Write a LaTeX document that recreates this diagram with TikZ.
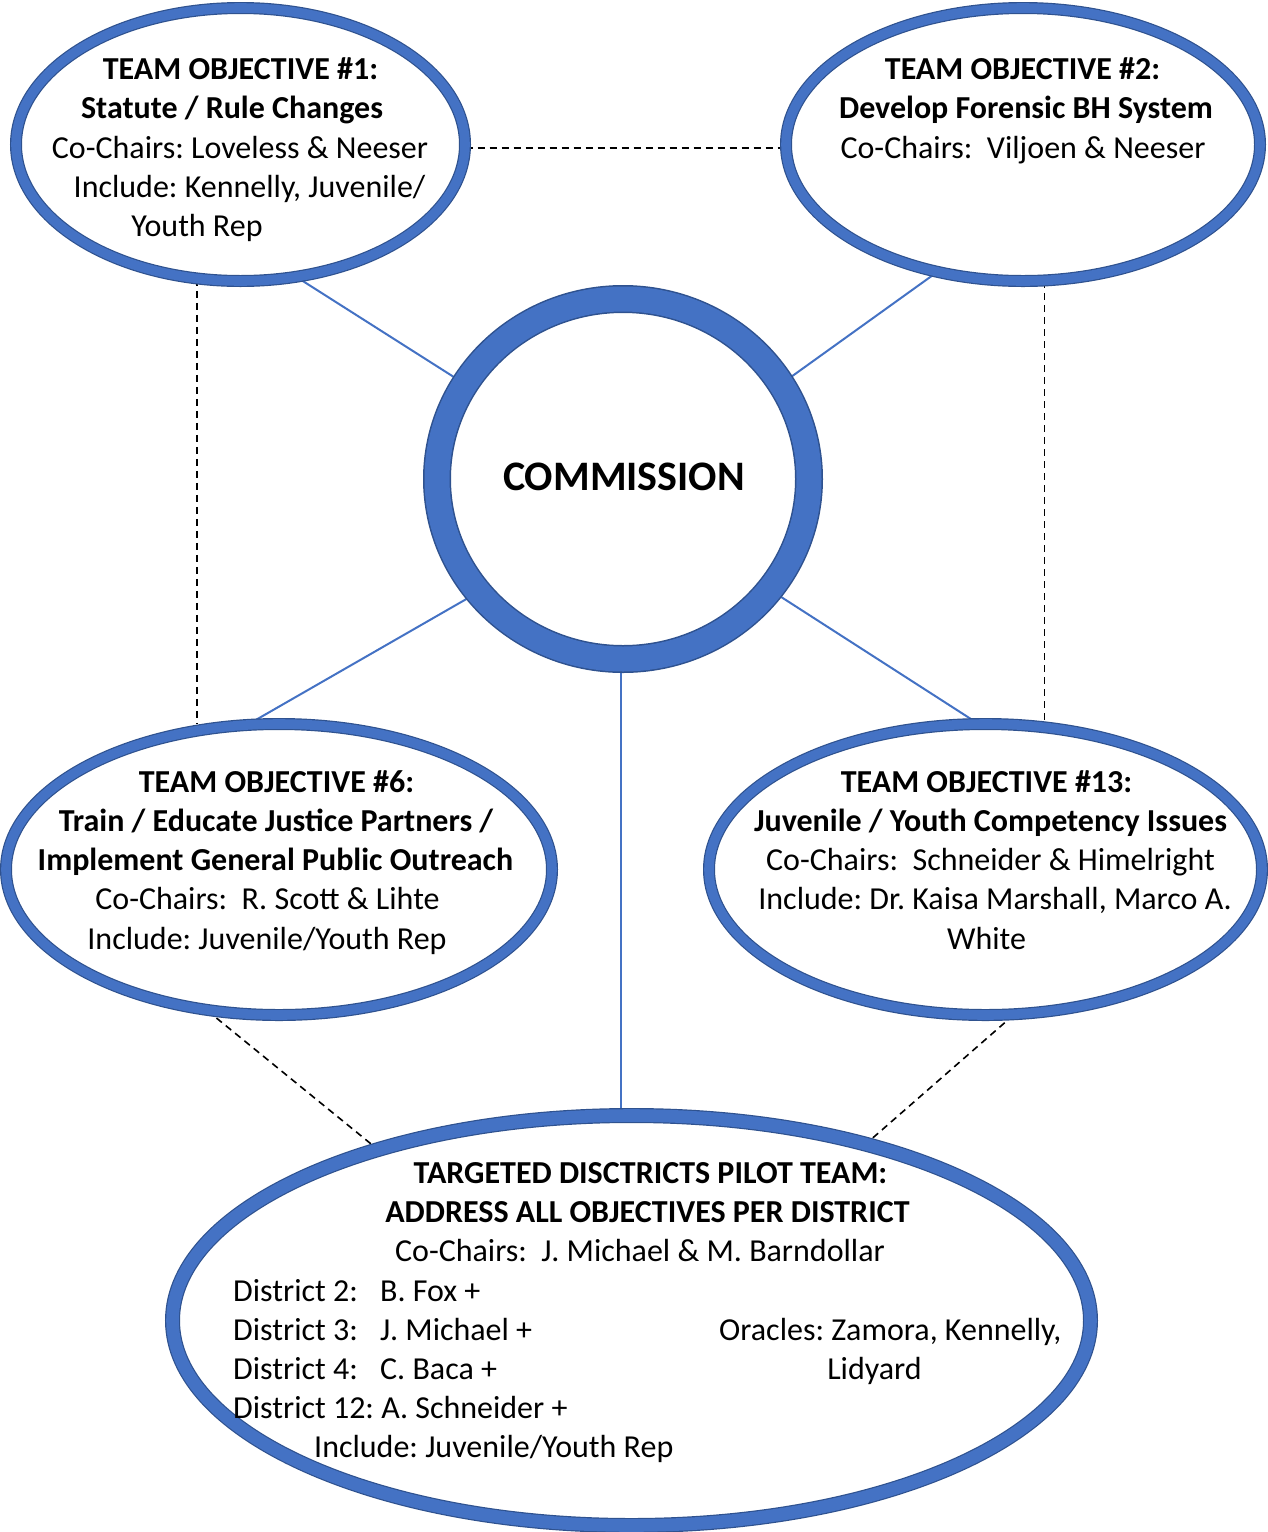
\documentclass[tikz,border=0pt]{standalone}
\usepackage{fontspec}
\setmainfont{Carlito}
\usetikzlibrary{shapes.geometric,backgrounds}
\definecolor{ringblue}{HTML}{4472C4}
\definecolor{ringedge}{HTML}{2F528F}
\frenchspacing
\begin{document}
\begin{tikzpicture}[x=1pt,y=-1pt,
  ring/.style={ellipse, draw=ringedge, line width=1.2pt, double=ringblue, double distance=9.6pt, fill=white, inner sep=0pt},
  txt/.style={inner sep=0pt, anchor=base, font=\fontsize{32}{38}\selectfont},
  btxt/.style={txt, font=\fontsize{32}{38}\bfseries\selectfont},
  ltxt/.style={txt, anchor=base west},
  link/.style={draw=ringblue, line width=2pt},
  dashlink/.style={draw=black, line width=1.6pt, dash pattern=on 7pt off 5pt}]
\useasboundingbox (0,0) rectangle (1268,1532);

% rings
\node[ring, minimum width=449pt, minimum height=273pt] (e1) at (240.5,144.5) {};
\node[ring, minimum width=474pt, minimum height=273pt] (e2) at (1023,144.5) {};
\node[ring, line width=1.5pt, double distance=25pt, minimum width=372pt, minimum height=360pt] (comm) at (623,479) {};
\node[ring, minimum width=546pt, minimum height=291pt] (e6) at (279,869.5) {};
\node[ring, minimum width=553pt, minimum height=291pt] (e13) at (985.5,869.5) {};
\node[ring, double distance=12.6pt, minimum width=918pt, minimum height=410pt] (bot) at (631.5,1320.5) {};

% connectors
\begin{scope}[on background layer]
\draw[link] (e1.-67) -- (comm.149.7);
\draw[link] (e2.236.6) -- (comm.31);
\draw[link] (comm.218.4) -- (e6.102);
\draw[link] (comm.-37.6) -- (e13.93);
\draw[link] ([xshift=-2pt]comm.south) -- ([xshift=-2pt]comm.south |- bot.north);
\draw[dashlink] ([yshift=-3.5pt]e1.east) -- ([yshift=-3.5pt]e1.east -| e2.west);
\draw[dashlink] (e1.-108) -- (e1.-108 |- e6.north);
\draw[dashlink] (e2.-81) -- (e2.-81 |- e13.north);
\draw[dashlink] (e6.-117) -- (bot.146.9);
\draw[dashlink] (e13.-79) -- (bot.37.2);
\end{scope}

% objective 1
\node[btxt] (t1a) at (240.5,79.5) {TEAM OBJECTIVE \#1:};
\node[btxt] (t1b) at (232,118.8) {Statute / Rule Changes};
\node[txt] (t1c) at (240,158) {Co-Chairs: Loveless \& Neeser};
\node[txt] (t1d) at (249.5,197.2) {Include: Kennelly, Juvenile/};
\node[txt] (t1e) at (197,236.4) {Youth Rep};

% objective 2
\node[btxt] (t2a) at (1022.5,79.5) {TEAM OBJECTIVE \#2:};
\node[btxt] (t2b) at (1026,118.8) {Develop Forensic BH System};
\node[txt] (t2c) at (1023,158) {Co-Chairs:\ \ Viljoen \& Neeser};

% commission
\node[txt, font=\fontsize{42}{50}\bfseries\selectfont] (tc) at (624,490.7) {COMMISSION};

% objective 6
\node[btxt] (t6a) at (276.5,792) {TEAM OBJECTIVE \#6:};
\node[btxt] (t6b) at (276,831.3) {Train / Educate Justice Partners /};
\node[btxt] (t6c) at (275.5,870.5) {Implement General Public Outreach};
\node[txt] (t6d) at (267.5,909.8) {Co-Chairs:\ \ R. Scott \& Lihte};
\node[txt] (t6e) at (267,949) {Include: Juvenile/Youth Rep};

% objective 13
\node[btxt] (t13a) at (986.5,792) {TEAM OBJECTIVE \#13:};
\node[btxt] (t13b) at (990.5,831.3) {Juvenile / Youth Competency Issues};
\node[txt] (t13c) at (990.5,870.5) {Co-Chairs:\ \ Schneider \& Himelright};
\node[txt] (t13d) at (995,909.8) {Include: Dr. Kaisa Marshall, Marco A.};
\node[txt] (t13e) at (986.5,949) {White};

% pilot team
\node[btxt] (tba) at (650.5,1183.5) {TARGETED DISCTRICTS PILOT TEAM:};
\node[btxt] (tbb) at (647.5,1222.7) {ADDRESS ALL OBJECTIVES PER DISTRICT};
\node[txt] (tbc) at (640,1261.9) {Co-Chairs:\ \ J. Michael \& M. Barndollar};
\node[ltxt] (tbd) at (233,1301.1) {\makebox[147pt][l]{District 2:}B. Fox +};
\node[ltxt] (tbe) at (233,1340.3) {\makebox[147pt][l]{District 3:}J. Michael +};
\node[ltxt] (tbf) at (233,1379.5) {\makebox[147pt][l]{District 4:}C. Baca +};
\node[ltxt] (tbg) at (233,1418.7) {District 12: A. Schneider +};
\node[ltxt] (tbh) at (314,1457.9) {Include: Juvenile/Youth Rep};
\node[ltxt] (tbi) at (719,1340.3) {Oracles: Zamora, Kennelly,};
\node[txt] (tbj) at (874.5,1379.5) {Lidyard};
\end{tikzpicture}
\end{document}
